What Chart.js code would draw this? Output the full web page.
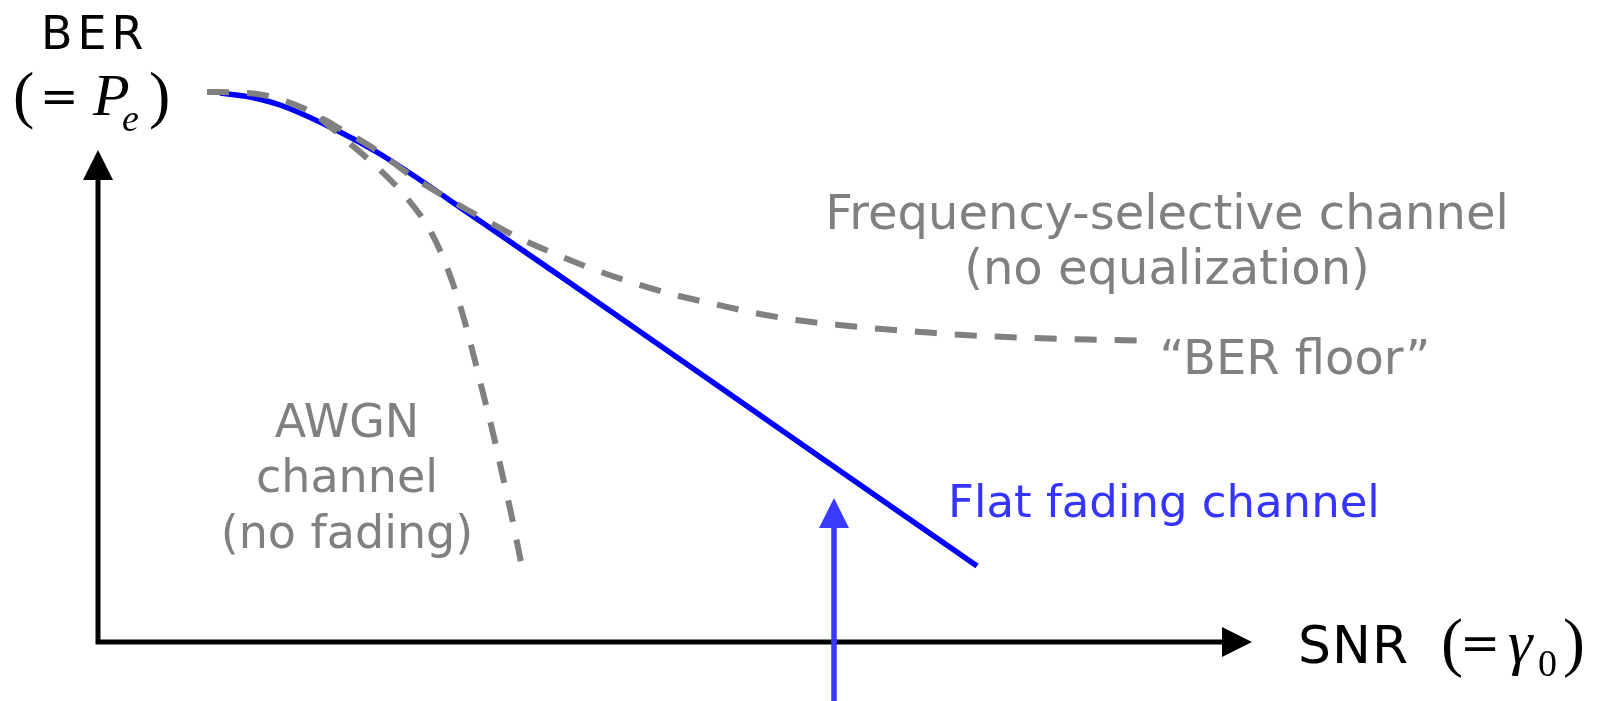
<!DOCTYPE html>
<html><head><meta charset="utf-8">
<script src="https://cdn.jsdelivr.net/npm/chart.js@4/dist/chart.umd.min.js"></script>
<style>html,body{margin:0;padding:0;background:#fff;overflow:hidden}canvas{display:block}</style>
</head><body>
<canvas id="c" width="1608" height="701"></canvas>
<script>
// ---- data (arbitrary schematic units: SNR on x, BER on y) ----
const freqSelX = [10.9, 13.7, 16.5, 20.5, 23.9, 27.5, 31.5, 34.9, 38.2, 41.9, 45.5, 49.2, 53.4, 57.7, 61.6, 65.7, 69.8, 74.1, 78.4, 82.3, 86.6, 90.9, 95.2, 99.1, 104.4];
const freqSelY = [55.0, 54.95, 54.7, 53.4, 51.5, 49.4, 46.5, 44.4, 42.5, 40.5, 38.9, 37.4, 35.95, 34.7, 33.8, 32.9, 32.2, 31.7, 31.3, 31.0, 30.7, 30.5, 30.35, 30.25, 30.15];
const flatX = [12.2, 15.2, 18.2, 23.2, 28.2, 38.2, 46.2, 72.2, 87.9];
const flatY = [54.9, 54.5, 53.7, 51.5, 48.8, 42.1, 36.6, 18.5, 7.6];
const awgnX = [22.2, 24.9, 28.0, 30.8, 33.3, 35.0, 36.4, 37.5, 38.5, 39.5, 40.4, 41.3, 42.4];
const awgnY = [52.4, 50.1, 47.4, 44.5, 41.0, 37.2, 33.0, 28.9, 24.9, 20.9, 16.9, 12.9, 7.5];
// axes extents (data units)
const xAxisTip = 115.4;
const yAxisTip = 49.2;
// operating-point arrow (blue) at this SNR
const markerX = 73.6;
const markerFromY = -7;
const markerTipY = 14.4;
// scale ranges
const xRange = [-9.8, 151.0];
const yRange = [-5.9, 64.2];
// text labels [text, x, y, align, size]
const grayLabels = [
  ['Frequency-selective channel', 106.9, 41.3, 'center', 48],
  ['(no equalization)', 106.9, 35.8, 'center', 48],
  ['\u201CBER floor\u201D', 119.7, 26.8, 'center', 48],
  ['AWGN', 24.9, 20.5, 'center', 46],
  ['channel', 24.9, 15.0, 'center', 46],
  ['(no fading)', 24.9, 9.4, 'center', 46]
];
const blueLabel = ['Flat fading channel', 85.0, 12.5];
const yTitle = ['BER', -5.7, 59.3];
const yMathPos = [-8.5, 52.7];
const xTitle = ['SNR', 120.0, -2.1];

const pts = (xs, ys) => xs.map((x, i) => ({x: x, y: ys[i]}));

const SANS = '"DejaVu Sans", Verdana, sans-serif';
const SERIF = '"Liberation Serif", "Times New Roman", serif';
const DSERIF = '"DejaVu Serif", serif';

function arrowHead(ctx, tx, ty, dx, dy, len, w, color) {
  const n = Math.hypot(dx, dy); dx /= n; dy /= n;
  const bx = tx - dx * len, by = ty - dy * len;
  ctx.fillStyle = color;
  ctx.beginPath();
  ctx.moveTo(tx, ty);
  ctx.lineTo(bx - dy * w / 2, by + dx * w / 2);
  ctx.lineTo(bx + dy * w / 2, by - dx * w / 2);
  ctx.closePath();
  ctx.fill();
}

const decor = {
  id: 'decor',
  beforeDraw(chart) {
    const ctx = chart.ctx;
    ctx.save();
    ctx.fillStyle = '#fff';
    ctx.fillRect(0, 0, chart.width, chart.height);
    ctx.restore();
  },
  beforeDatasetsDraw(chart) {
    const ctx = chart.ctx, xs = chart.scales.x, ys = chart.scales.y;
    const ox = xs.getPixelForValue(0), oy = ys.getPixelForValue(0);
    const yt = ys.getPixelForValue(yAxisTip), xt = xs.getPixelForValue(xAxisTip);
    const head = 30;
    ctx.save();
    ctx.strokeStyle = '#000';
    ctx.lineWidth = 5;
    ctx.lineJoin = 'miter';
    ctx.beginPath();
    ctx.moveTo(ox, yt + head - 1);
    ctx.lineTo(ox, oy);
    ctx.lineTo(xt - head + 1, oy);
    ctx.stroke();
    arrowHead(ctx, ox, yt, 0, -1, head, 30, '#000');
    arrowHead(ctx, xt, oy, 1, 0, head, 30, '#000');
    ctx.restore();
  },
  afterDatasetsDraw(chart) {
    const ctx = chart.ctx, xs = chart.scales.x, ys = chart.scales.y;
    const px = v => xs.getPixelForValue(v), py = v => ys.getPixelForValue(v);
    ctx.save();
    // blue operating-point arrow
    const mx = px(markerX), my0 = py(markerFromY), myt = py(markerTipY);
    ctx.strokeStyle = '#3a3aff';
    ctx.lineWidth = 5.5;
    ctx.beginPath();
    ctx.moveTo(mx, my0);
    ctx.lineTo(mx, myt + 29);
    ctx.stroke();
    arrowHead(ctx, mx, myt, 0, -1, 30, 30, '#3a3aff');

    ctx.textBaseline = 'alphabetic';
    // gray labels
    ctx.fillStyle = '#808080';
    grayLabels.forEach(l => {
      ctx.font = l[4] + 'px ' + SANS;
      ctx.textAlign = l[3];
      ctx.fillText(l[0], px(l[1]), py(l[2]));
    });
    // blue label
    ctx.font = '45px ' + SANS;
    ctx.fillStyle = '#3535ff';
    ctx.textAlign = 'left';
    ctx.fillText(blueLabel[0], px(blueLabel[1]), py(blueLabel[2]));

    // axis titles
    ctx.fillStyle = '#000';
    ctx.textAlign = 'left';
    ctx.font = '46px ' + SANS;
    ctx.letterSpacing = '5px';
    ctx.fillText(yTitle[0], px(yTitle[1]), py(yTitle[2]));
    ctx.letterSpacing = '1px';
    ctx.font = '52px ' + SANS;
    ctx.fillText(xTitle[0], px(xTitle[1]), py(xTitle[2]));
    ctx.letterSpacing = '0px';

    // math parts: [text, dx, font, dy]
    function mathGroup(x0, base, parts) {
      parts.forEach(p => {
        ctx.font = p[2];
        ctx.fillText(p[0], x0 + p[1], base + (p[3] || 0));
      });
    }
    // (= P_e)
    const bx = px(yMathPos[0]), bb = py(yMathPos[1]);
    mathGroup(bx, bb, [
      ['(', 0, '64px ' + SERIF, 1],
      ['=', 27, '46px ' + DSERIF, -3],
      ['P', 80, 'italic 60px ' + SERIF],
      ['e', 109, 'italic 38px ' + SERIF, 16],
      [')', 136, '64px ' + SERIF, 1]
    ]);
    // (= gamma_0)
    const sx = px(xTitle[1]) + 143, sb = py(xTitle[2]);
    mathGroup(sx, sb, [
      ['(', 0, '66px ' + SERIF, 1],
      ['=', 19, '48px ' + DSERIF, -3],
      ['\u03B3', 67, 'italic 62px ' + SERIF],
      ['0', 97, '38px ' + SERIF, 13],
      [')', 122, '66px ' + SERIF, 1]
    ]);
    ctx.restore();
  }
};

new Chart(document.getElementById('c'), {
  type: 'scatter',
  data: {
    datasets: [
      {label: 'Frequency-selective channel', data: pts(freqSelX, freqSelY), showLine: true, borderColor: '#808080', borderWidth: 6, borderDash: [22, 18], pointRadius: 0, cubicInterpolationMode: 'monotone', fill: false},
      {label: 'AWGN channel', data: pts(awgnX, awgnY), showLine: true, borderColor: '#808080', borderWidth: 6, borderDash: [22, 18], pointRadius: 0, cubicInterpolationMode: 'monotone', fill: false},
      {label: 'Flat fading channel', data: pts(flatX, flatY), showLine: true, borderColor: '#0000ff', borderWidth: 5.5, pointRadius: 0, cubicInterpolationMode: 'monotone', fill: false}
    ]
  },
  options: {
    responsive: false,
    devicePixelRatio: 1,
    animation: false,
    events: [],
    layout: {padding: 0},
    plugins: {legend: {display: false}, tooltip: {enabled: false}, title: {display: false}},
    scales: {
      x: {type: 'linear', display: false, min: xRange[0], max: xRange[1]},
      y: {type: 'linear', display: false, min: yRange[0], max: yRange[1]}
    }
  },
  plugins: [decor]
});
</script>
</body></html>
